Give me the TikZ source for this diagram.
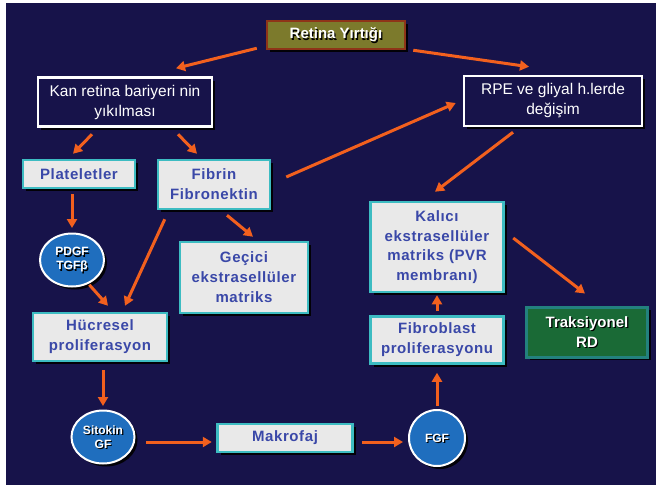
\documentclass[tikz,border=0pt]{standalone}
\usepackage{fontspec}
\setmainfont{Liberation Sans}
\usetikzlibrary{arrows.meta,shapes.geometric,shadows}
\definecolor{bgnavy}{HTML}{17134A}
\definecolor{boxgray}{HTML}{E9E9E9}
\definecolor{boxteal}{HTML}{3DBCC2}
\definecolor{boxblue}{HTML}{3A48A8}
\definecolor{arrorange}{HTML}{F2601E}
\definecolor{olivefill}{HTML}{7C7A2C}
\definecolor{brownedge}{HTML}{8E3418}
\definecolor{circblue}{HTML}{1F6EBE}
\definecolor{trgreen}{HTML}{1A6A36}
\definecolor{tredge}{HTML}{23817E}
\newcommand\shd[1]{\makebox[0pt][l]{\kern1.2pt\raisebox{-1.2pt}[0pt][0pt]{\color{black}#1}}#1}
\begin{document}
\begin{tikzpicture}[x=1pt,y=-1pt,
  shdw/.style={drop shadow={shadow xshift=3pt,shadow yshift=-3pt,fill=black,opacity=0.9}},
  gbox/.style={shdw,draw=boxteal,line width=2.5pt,fill=boxgray,text=boxblue,inner sep=0pt,align=center,
    font=\bfseries\fontsize{15}{20}\selectfont\addfontfeatures{LetterSpace=4}},
  wbox/.style={shdw,draw=white,line width=2.5pt,fill=bgnavy,text=white,inner sep=0pt,align=center,
    font=\fontsize{15.5}{20}\selectfont},
  circ/.style={ellipse,shdw,draw=white,line width=2pt,fill=circblue,text=white,inner sep=0pt,align=center,
    font=\bfseries\fontsize{12}{14}\selectfont},
  arr/.style={draw=arrorange,line width=3pt,-{Triangle[length=9pt,width=10pt]}}
]
\useasboundingbox (0,0) rectangle (656,488);
\fill[white] (0,0) rectangle (656,488);
\fill[bgnavy] (6,3) rectangle (656,485);

\node[shdw,draw=brownedge,line width=2.5pt,fill=olivefill,text=white,inner sep=0pt,
  minimum width=138pt,minimum height=28pt,font=\bfseries\fontsize{15}{18}\selectfont]
  (ret) at (336,35) {\shd{Retina Yırtığı}};
\node[wbox,minimum width=174pt,minimum height=49pt] (kan) at (125,102) {Kan retina bariyeri nin\\yıkılması};
\node[wbox,minimum width=178pt,minimum height=50pt] (rpe) at (553,101) {RPE ve  gliyal h.lerde\\değişim};
\node[gbox,minimum width=112pt,minimum height=28pt] (plt) at (79,174) {Plateletler};
\node[gbox,minimum width=112pt,minimum height=49pt] (fib) at (214,184.5) {Fibrin\\Fibronektin};
\node[circ,minimum width=64pt,minimum height=53pt] (pdgf) at (72,260) {\shd{PDGF}\\\shd{TGFβ}};
\node[gbox,minimum width=128pt,minimum height=71pt] (gec) at (244,277.5) {Geçici\\ekstrasellüler\\matriks};
\node[gbox,minimum width=134pt,minimum height=48pt] (huc) at (100,337) {Hücresel\\proliferasyon};
\node[circ,minimum width=63pt,minimum height=53pt] (sit) at (103,437) {\shd{Sitokin}\\\shd{GF}};
\node[gbox,minimum width=135pt,minimum height=28pt] (mak) at (285,438) {Makrofaj};
\node[circ,minimum width=56pt,minimum height=56pt] (fgf) at (437,438) {\shd{FGF}};
\node[gbox,minimum width=133pt,minimum height=47pt] (fbl) at (437,340) {Fibroblast\\proliferasyonu};
\node[gbox,minimum width=133pt,minimum height=90pt,font=\bfseries\fontsize{15}{19.5}\selectfont\addfontfeatures{LetterSpace=4}]
  (kal) at (437,247) {Kalıcı\\ekstrasellüler\\matriks (PVR\\membranı)};
\node[shdw,draw=tredge,line width=3pt,fill=trgreen,text=white,inner sep=0pt,align=center,
  minimum width=121pt,minimum height=50pt,font=\bfseries\fontsize{15}{20}\selectfont]
  (tra) at (587,332) {\shd{Traksiyonel}\\\shd{RD}};

\draw[arr] ([xshift=-9pt,yshift=2pt]ret.south west) -- ([xshift=51pt,yshift=8pt]kan.north);
\draw[arr] ([xshift=7pt]ret.south east) -- ([xshift=-24pt,yshift=8pt]rpe.north);
\draw[arr] ([xshift=-33pt,yshift=-6.5pt]kan.south) -- ([xshift=-6pt,yshift=5pt]plt.north);
\draw[arr] ([xshift=53pt,yshift=-6.5pt]kan.south) -- ([xshift=-17pt,yshift=5pt]fib.north);
\draw[arr] ([xshift=-7pt,yshift=-5pt]plt.south) -- ([yshift=4.5pt]pdgf.north);
\draw[arr] ([xshift=3pt]pdgf.-60) -- ([xshift=8pt,yshift=6pt]huc.north);
\draw[arr] ([xshift=8pt,yshift=-9pt]fib.south west) -- ([xshift=25pt,yshift=6pt]huc.north);
\draw[arr] ([xshift=13pt,yshift=-5pt]fib.south) -- ([xshift=9pt,yshift=4pt]gec.north);
\draw[arr] ([xshift=15pt,yshift=7.5pt]fib.east) -- ([xshift=-7pt,yshift=-2pt]rpe.west);
\draw[arr] ([xshift=-40pt,yshift=-5pt]rpe.south) -- ([xshift=-2pt,yshift=9pt]kal.north);
\draw[arr] ([xshift=8.5pt,yshift=9pt]kal.east) -- ([xshift=-2pt,yshift=12pt]tra.north);
\draw[arr] ([yshift=4pt]fbl.north) -- ([yshift=-2pt]kal.south);
\draw[arr] ([xshift=3pt,yshift=-8pt]huc.south) -- ([yshift=3.5pt]sit.north);
\draw[arr] ([xshift=10.5pt,yshift=-5pt]sit.east) -- ([xshift=-4.5pt,yshift=-4pt]mak.west);
\draw[arr] ([xshift=8.5pt,yshift=-4pt]mak.east) -- ([xshift=-5pt,yshift=-4pt]fgf.west);
\draw[arr] ([yshift=3pt]fgf.north) -- ([yshift=-8pt]fbl.south);
\end{tikzpicture}
\end{document}
